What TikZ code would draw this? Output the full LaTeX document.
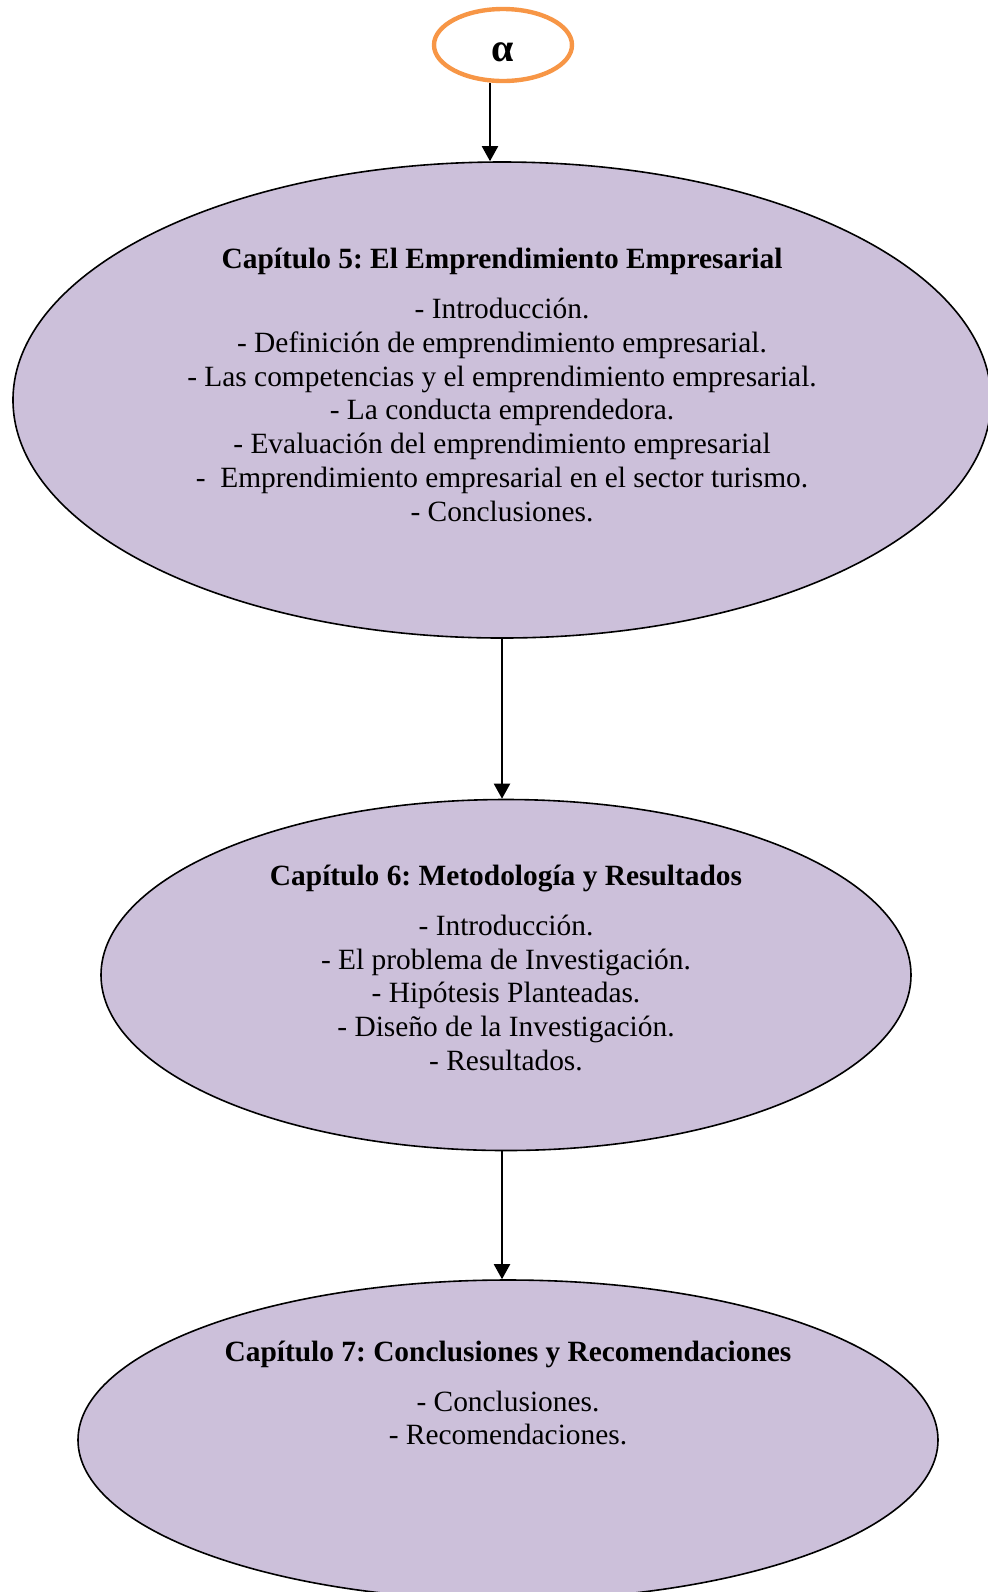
\documentclass[tikz,border=0pt]{standalone}
\usepackage{fontspec}
\setmainfont{Liberation Serif}
\usepackage{xcolor}
\usetikzlibrary{arrows.meta, shapes.geometric, positioning}

\definecolor{lila}{RGB}{204,192,218}
\definecolor{naranja}{RGB}{247,150,70}

\begin{document}
\frenchspacing
\begin{tikzpicture}[
        x=0.5pt, y=-0.5pt,
        >={Triangle[length=7.5pt, width=8pt]},
        flecha/.style={->, line width=1pt},
        capitulo/.style={ellipse, draw, fill=lila, line width=0.8pt, inner sep=0pt},
        txt/.style={font=\fontsize{14.7}{16.9}\selectfont, align=center, inner sep=0pt}
    ]
        \useasboundingbox (0,0) rectangle (987,1592);

        \node[ellipse, draw=naranja, line width=2.2pt, minimum width=69pt, minimum height=36pt] (alfa) at (503,45) {};
        \node[font=\fontsize{20}{22}\selectfont\bfseries, inner sep=0pt] (alfatxt) at (503,52) {α};

        \node[capitulo, minimum width=489pt, minimum height=238pt] (cap5) at (502,400) {};
        \node[capitulo, minimum width=405pt, minimum height=175.5pt] (cap6) at (506,975) {};
        \node[capitulo, minimum width=430pt, minimum height=160pt] (cap7) at (508,1440) {};

        \node[txt] (txt5) at (502,385) {\textbf{Capítulo 5: El Emprendimiento Empresarial}\\[8pt]
            - Introducción.\\
            - Definición de emprendimiento empresarial.\\
            - Las competencias y el emprendimiento empresarial.\\
            - La conducta emprendedora.\\
            - Evaluación del emprendimiento empresarial\\
            -~ Emprendimiento empresarial en el sector turismo.\\
            - Conclusiones.};
        \node[txt] (txt6) at (506,968) {\textbf{Capítulo 6: Metodología y Resultados}\\[8pt]
            - Introducción.\\
            - El problema de Investigación.\\
            - Hipótesis Planteadas.\\
            - Diseño de la Investigación.\\
            - Resultados.};
        \node[txt] (txt7) at (508,1393) {\textbf{Capítulo 7: Conclusiones y Recomendaciones}\\[8pt]
            - Conclusiones.\\
            - Recomendaciones.};

        \draw[flecha] ([xshift=-6.5pt]alfa.south) -- ([xshift=-6.5pt]alfa.south |- cap5.north);
        \draw[flecha] (cap5.south) -- (cap5.south |- cap6.north);
        \draw[flecha] (cap5.south |- cap6.south) -- (cap5.south |- cap7.north);
    \end{tikzpicture}
\end{document}
